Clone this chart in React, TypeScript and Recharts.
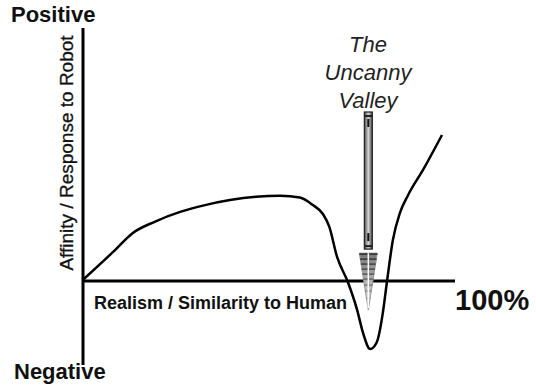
import React from 'react';
import { LineChart, Line, XAxis, YAxis, ReferenceLine } from 'recharts';

// realism (% human likeness) vs affinity
const realism = [0, 8.1, 13.4, 19.4, 26.1, 32.8, 39.5, 46.5, 53.0, 58.3, 61.8, 64.5, 66.2, 68.3, 71.2, 73.7, 75.3, 77.2, 79.0, 80.6, 81.7, 83.3, 85.2, 87.4, 91.4, 96.5];
const affinity = [0.5, 11.5, 19, 23.5, 27.3, 30.0, 32, 33.3, 33.7, 33.0, 30.0, 26.5, 21.5, 9.5, -0.4, -11.5, -20.6, -26.9, -24.1, -12.6, -0.4, 16.2, 26.9, 34, 43.9, 57.7];

const valleyLines = ['The', 'Uncanny', 'Valley'];
const valleyX = 76.7;
const arrowTop = 66.8;
const arrowTip = -11.5;

const data = realism.map((r, i) => ({ realism: r, affinity: affinity[i] }));

const FONT = '"Liberation Sans", Arial, Helvetica, sans-serif';

const ValleyArrow = (props: any) => {
  const { x1, y1, y2 } = props;
  const cx = x1;
  const headH = 57;
  const headW = 18;
  const shaftW = 8;
  const headTop = y2 - headH;
  const stripes = [0, 5, 10, 15, 20, 25, 31, 37, 44];
  return (
    <g>
      <defs>
        <linearGradient id="shaftGrad" x1="0" y1="0" x2="1" y2="0">
          <stop offset="0%" stopColor="#444" />
          <stop offset="50%" stopColor="#d8d8d8" />
          <stop offset="100%" stopColor="#444" />
        </linearGradient>
        <linearGradient id="headGrad" x1="0" y1="0" x2="0" y2="1">
          <stop offset="0%" stopColor="#777" />
          <stop offset="100%" stopColor="#eee" />
        </linearGradient>
      </defs>
      <rect x={cx - shaftW / 2} y={y1} width={shaftW} height={headTop - y1 - 4} fill="url(#shaftGrad)" stroke="#222" strokeWidth={1.2} />
      <rect x={cx - 4} y={y1 + 3} width={8} height={2} fill="#222" />
      <rect x={cx - 1} y={y1 + 7} width={2} height={8} fill="#111" />
      <rect x={cx - 1} y={headTop - 20} width={2} height={8} fill="#111" />
      <rect x={cx - 4} y={headTop - 8} width={8} height={2} fill="#222" />
      <polygon points={`${cx - headW / 2},${headTop} ${cx + headW / 2},${headTop} ${cx},${y2}`} fill="url(#headGrad)" stroke="#999" strokeWidth={1} />
      {stripes.map((s) => {
        const w = (headW / 2) * (1 - s / headH);
        return <line key={s} x1={cx - w} x2={cx + w} y1={headTop + s + 1} y2={headTop + s + 1} stroke="#333" strokeOpacity={1 - s / 55} strokeWidth={1.6} />;
      })}
      <line x1={cx} x2={cx} y1={headTop} y2={y2 - 2} stroke="#fff" strokeWidth={1.5} />
    </g>
  );
};

export default function App() {
  return (
    <div style={{ position: 'absolute', left: 0, top: 0, width: 536, height: 387, background: '#fff' }}>
      <LineChart width={536} height={387} data={data} margin={{ top: 28, right: 81, bottom: 22, left: 83 }}>
        <XAxis type="number" dataKey="realism" domain={[0, 100]} hide />
        <YAxis type="number" domain={[-33.2, 100]} hide />
        <ReferenceLine x={0} stroke="#000" strokeWidth={3} />
        <ReferenceLine y={0} stroke="#000" strokeWidth={3} />
        <Line
          type="monotone"
          dataKey="affinity"
          stroke="#000"
          strokeWidth={2.5}
          dot={false}
          isAnimationActive={false}
        />
        <ReferenceLine
          segment={[{ x: valleyX, y: arrowTop }, { x: valleyX, y: arrowTip }]}
          stroke="#000"
          shape={ValleyArrow}
        />
        <text x={11} y={22} fontFamily={FONT} fontWeight="bold" fontSize={22} fill="#111">Positive</text>
        <text x={14} y={379} fontFamily={FONT} fontWeight="bold" fontSize={22} fill="#111">Negative</text>
        <text x={94} y={309} fontFamily={FONT} fontWeight="bold" fontSize={18} fill="#111">Realism / Similarity to Human</text>
        <text x={455} y={310} fontFamily={FONT} fontWeight="bold" fontSize={29} fill="#111">100%</text>
        <text
          x={73}
          y={153}
          transform="rotate(-90 73 153)"
          textAnchor="middle"
          fontFamily={FONT}
          fontSize={19}
          fill="#111"
          stroke="#111"
          strokeWidth={0.3}
        >
          Affinity / Response to Robot
        </text>
        {valleyLines.map((t, i) => (
          <text key={t} x={368} y={52 + i * 28} textAnchor="middle" fontFamily={FONT} fontStyle="italic" fontSize={22} fill="#222">
            {t}
          </text>
        ))}
      </LineChart>
    </div>
  );
}
